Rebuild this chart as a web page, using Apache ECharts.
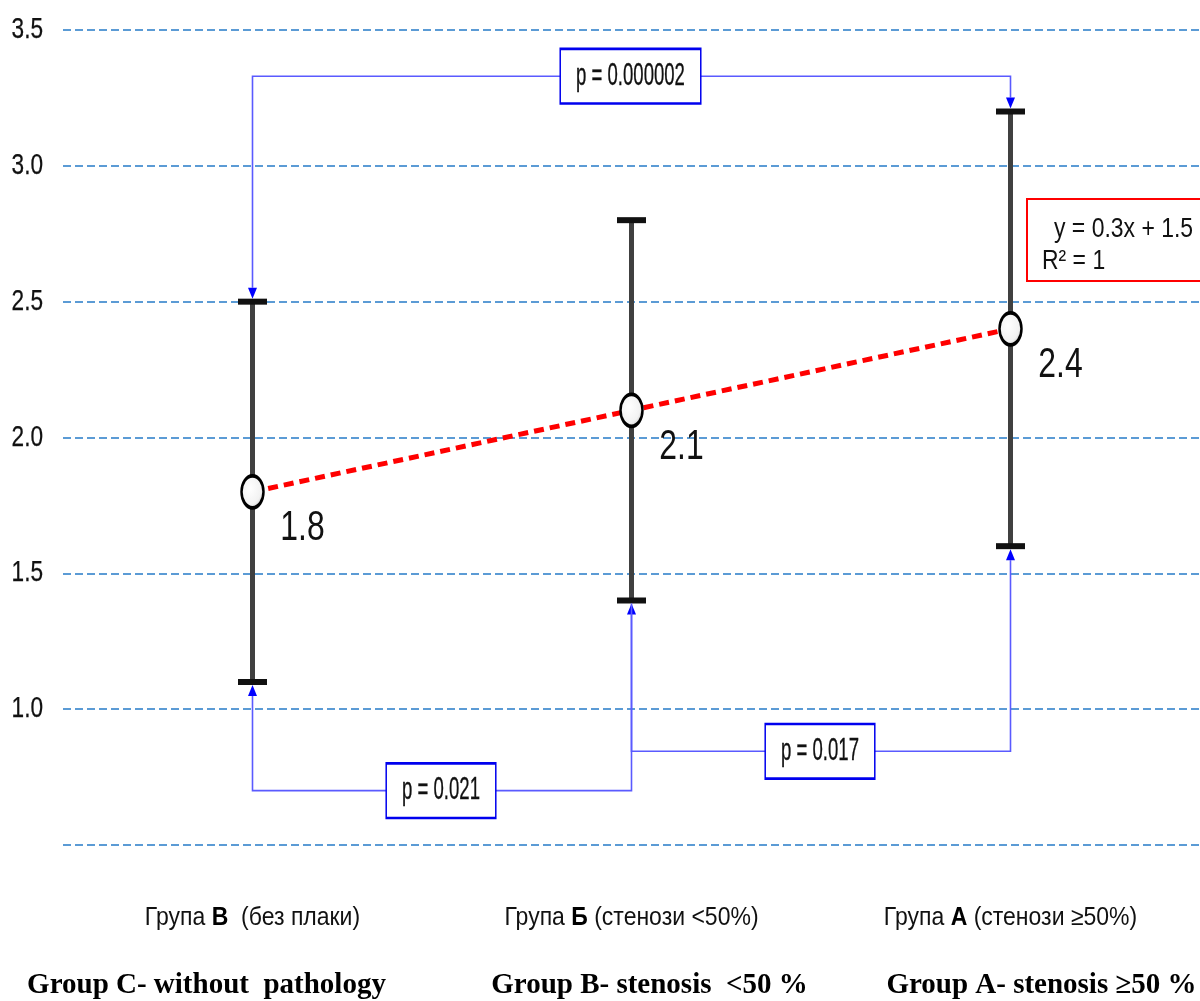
<!DOCTYPE html>
<html>
<head>
<meta charset="utf-8">
<title>Група В / Б / А</title>
<script src="https://cdn.jsdelivr.net/npm/echarts@6/dist/echarts.min.js"></script>
<style>
  html, body { margin: 0; padding: 0; background: #fff; }
  #chart { width: 1200px; height: 1001px; }
</style>
</head>
<body>
<div id="chart"></div>
<script>
// Group order on the x axis: C (no plaque), B (<50%), A (>=50%)
const groupKeys = ['C', 'B', 'A'];
const groupLettersUa = ['В', 'Б', 'А'];
const groupNotesUa = ['  (без плаки)', ' (стенози <50%)', ' (стенози ≥50%)'];
const groupsEn = ['Group C- without  pathology', 'Group B- stenosis  <50 %', 'Group A- stenosis ≥50 %'];

// Mean and error range per group
const means = [1.8, 2.1, 2.4];
const lows = [1.1, 1.4, 1.6];
const highs = [2.5, 2.8, 3.2];

// Y axis range, step and labelled ticks
const yMin = 0.5;
const yMax = 3.5;
const yStep = 0.5;
const yTickLabels = ['1.0', '1.5', '2.0', '2.5', '3.0', '3.5'];

// Pairwise comparisons: group indices, bracket level (y units), which bar ends they point to
const comparisons = [
  { from: 0, to: 2, level: 3.33, side: 'top', text: 'p = 0.000002', arrows: [true, true] },
  { from: 0, to: 1, level: 0.70, side: 'bottom', text: 'p = 0.021', arrows: [true, true] },
  { from: 1, to: 2, level: 0.845, side: 'bottom', text: 'p = 0.017', arrows: [false, true] }
];

// Linear trend annotation
const trendLines = ['y = 0.3x + 1.5', 'R² = 1'];

// Arial-like face, squeezed horizontally to a narrow cut
const SANS = "'Liberation Sans', Arial, sans-serif";
const SERIF = "'Liberation Serif', 'Times New Roman', serif";
const INK = '#111';

const chart = echarts.init(document.getElementById('chart'));

function bandHalf(api) {
  return api.size([1, 0])[0] / 2;
}

function renderErrorBar(params, api) {
  const x = api.value(0);
  const lo = api.coord([x, api.value(1)]);
  const hi = api.coord([x, api.value(2)]);
  const cap = 14.5;
  return {
    type: 'group',
    children: [
      { type: 'line', shape: { x1: lo[0], y1: lo[1], x2: hi[0], y2: hi[1] },
        style: { stroke: '#404040', lineWidth: 5 } },
      { type: 'line', shape: { x1: hi[0] - cap, y1: hi[1], x2: hi[0] + cap, y2: hi[1] },
        style: { stroke: '#111', lineWidth: 6 } },
      { type: 'line', shape: { x1: lo[0] - cap, y1: lo[1], x2: lo[0] + cap, y2: lo[1] },
        style: { stroke: '#111', lineWidth: 6 } }
    ]
  };
}

function renderComparison(params, api) {
  const c = comparisons[params.dataIndex];
  const ends = c.side === 'top' ? highs : lows;
  const dir = c.side === 'top' ? -1 : 1;  // arrow sits above (top) or below (bottom) the cap
  const p1 = api.coord([c.from, ends[c.from]]);
  const p2 = api.coord([c.to, ends[c.to]]);
  const yl = api.coord([c.from, c.level])[1];
  const arrowLen = 11, arrowHalf = 4.5, gap = 3;
  const tip1 = p1[1] + dir * gap, tip2 = p2[1] + dir * gap;
  const base1 = tip1 + dir * arrowLen, base2 = tip2 + dir * arrowLen;
  const children = [
    { type: 'polyline',
      shape: { points: [[p1[0], c.arrows[0] ? base1 : tip1], [p1[0], yl], [p2[0], yl], [p2[0], c.arrows[1] ? base2 : tip2]] },
      style: { stroke: '#5a5aff', lineWidth: 1.6, fill: null } }
  ];
  [[p1[0], tip1, base1, c.arrows[0]], [p2[0], tip2, base2, c.arrows[1]]].forEach(([x, tip, base, show]) => {
    if (!show) return;
    children.push({ type: 'polygon',
      shape: { points: [[x, tip], [x - arrowHalf, base], [x + arrowHalf, base]] },
      style: { fill: '#0000ff' } });
  });
  children.push({
    type: 'text',
    x: (p1[0] + p2[0]) / 2 - 1,
    y: yl,
    scaleX: 0.58,
    scaleY: 1,
    style: {
      text: c.text,
      fontFamily: SANS,
      fontSize: 32,
      lineHeight: 32,
      fill: INK,
      stroke: INK,
      lineWidth: 0.35,
      align: 'center',
      verticalAlign: 'middle',
      backgroundColor: '#fff',
      borderColor: '#0000ee',
      borderWidth: 2.6,
      padding: [10, 26, 10, 26]
    }
  });
  return { type: 'group', children };
}

function renderYTick(params, api) {
  const v = api.value(1);
  const p = api.coord([0, v]);
  return {
    type: 'text',
    x: p[0] - bandHalf(api) - 20,
    y: p[1],
    scaleX: 0.78,
    style: {
      text: yTickLabels[params.dataIndex],
      fontFamily: SANS, fontSize: 29, fill: INK, stroke: INK, lineWidth: 0.25,
      align: 'right', verticalAlign: 'middle'
    }
  };
}

function renderGroupLabel(params, api) {
  const i = api.value(0);
  const p = api.coord([i, yMin]);
  return {
    type: 'text',
    x: p[0],
    y: p[1] + 73,
    scaleX: 0.92,
    style: {
      text: '{t|Група }{b|' + groupLettersUa[i] + '}{t|' + groupNotesUa[i] + '}',
      align: 'center',
      verticalAlign: 'middle',
      rich: {
        t: { fontFamily: SANS, fontSize: 25, fill: INK },
        b: { fontFamily: SANS, fontSize: 25, fontWeight: 'bold', fill: '#000' }
      }
    }
  };
}

function renderMeanLabel(params, api) {
  const i = api.value(0);
  const p = api.coord([i, api.value(1)]);
  return {
    type: 'text',
    x: p[0] + 50,
    y: p[1] + 37,
    scaleX: 0.76,
    style: {
      text: api.value(1).toFixed(1),
      fontFamily: SANS, fontSize: 42, fill: INK,
      align: 'center', verticalAlign: 'middle'
    }
  };
}

const option = {
  animation: false,
  backgroundColor: '#fff',
  grid: { left: 63, right: -4, top: 30, bottom: 156, containLabel: false },
  xAxis: [
    {
      type: 'category',
      data: groupKeys,
      position: 'bottom',
      axisLine: { show: false },
      axisTick: { show: false },
      splitLine: { show: false },
      axisLabel: { show: false }
    },
    {
      type: 'category',
      data: groupKeys,
      position: 'bottom',
      axisLine: { show: false },
      axisTick: { show: false },
      splitLine: { show: false },
      axisLabel: {
        interval: 0,
        margin: 126,
        formatter: (v, i) => '{e' + i + '|' + groupsEn[i] + '}',
        rich: {
          e0: { fontFamily: SERIF, fontSize: 29, fontWeight: 'bold', color: '#000', padding: [0, 92, 0, 0] },
          e1: { fontFamily: SERIF, fontSize: 29, fontWeight: 'bold', color: '#000', padding: [0, 0, 0, 36] },
          e2: { fontFamily: SERIF, fontSize: 29, fontWeight: 'bold', color: '#000', padding: [0, 0, 0, 62] }
        }
      }
    }
  ],
  yAxis: {
    type: 'value',
    min: yMin,
    max: yMax,
    interval: yStep,
    axisLine: { show: false },
    axisTick: { show: false },
    axisLabel: { show: false },
    splitLine: {
      show: true,
      lineStyle: { color: '#5b9bd5', width: 2, type: [8, 4] }
    }
  },
  series: [
    {
      type: 'custom',
      name: 'yTicks',
      xAxisIndex: 0,
      renderItem: renderYTick,
      encode: { x: 0, y: 1 },
      data: yTickLabels.map(t => [0, parseFloat(t)]),
      clip: false,
      silent: true
    },
    {
      type: 'custom',
      name: 'groupLabels',
      xAxisIndex: 0,
      renderItem: renderGroupLabel,
      encode: { x: 0 },
      data: groupKeys.map((k, i) => [i]),
      clip: false,
      silent: true
    },
    {
      type: 'custom',
      name: 'range',
      xAxisIndex: 0,
      renderItem: renderErrorBar,
      encode: { x: 0, y: [1, 2] },
      data: lows.map((lo, i) => [i, lo, highs[i]]),
      z: 2,
      silent: true
    },
    {
      type: 'custom',
      name: 'comparisons',
      xAxisIndex: 0,
      renderItem: renderComparison,
      encode: { x: 0, y: 1 },
      data: comparisons.map(c => [c.from, c.level]),
      z: 3,
      silent: true
    },
    {
      type: 'line',
      name: 'mean',
      xAxisIndex: 0,
      data: means,
      z: 5,
      symbol: 'circle',
      symbolSize: [22, 32],
      lineStyle: { color: '#ff0000', width: 5, type: [10, 6] },
      itemStyle: {
        color: {
          type: 'radial', x: 0.4, y: 0.4, r: 0.75,
          colorStops: [
            { offset: 0, color: '#ffffff' },
            { offset: 0.6, color: '#f2f2f2' },
            { offset: 1, color: '#a8a8a8' }
          ]
        },
        borderColor: '#000',
        borderWidth: 3
      },
      label: { show: false }
    },
    {
      type: 'custom',
      name: 'meanLabels',
      xAxisIndex: 0,
      renderItem: renderMeanLabel,
      encode: { x: 0, y: 1 },
      data: means.map((m, i) => [i, m]),
      z: 6,
      silent: true
    }
  ],
  graphic: [
    {
      type: 'group',
      left: 1026,
      top: 198,
      children: [
        { type: 'rect', shape: { x: 0, y: 0, width: 200, height: 82 },
          style: { fill: '#fff', stroke: '#ff0000', lineWidth: 2 } },
        { type: 'text', x: 27, y: 30, scaleX: 0.82,
          style: { text: trendLines[0], fontFamily: SANS, fontSize: 28, fill: INK, verticalAlign: 'middle' } },
        { type: 'text', x: 15, y: 62, scaleX: 0.82,
          style: { text: trendLines[1], fontFamily: SANS, fontSize: 28, fill: INK, verticalAlign: 'middle' } }
      ]
    }
  ]
};

chart.setOption(option);
</script>
</body>
</html>
